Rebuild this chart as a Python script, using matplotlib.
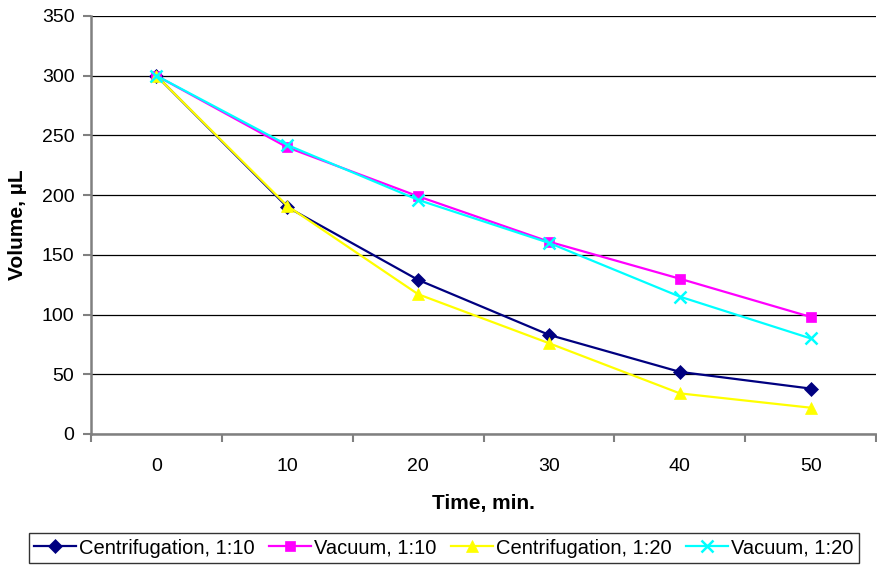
import matplotlib.pyplot as plt

plt.rcParams['font.family'] = ['Liberation Sans', 'DejaVu Sans']

times = [0, 10, 20, 30, 40, 50]
centrifugation_1_10 = [300, 190, 129, 83, 52, 38]
vacuum_1_10 = [300, 240, 199, 161, 130, 98]
centrifugation_1_20 = [300, 191, 117, 76, 34, 22]
vacuum_1_20 = [300, 242, 196, 160, 115, 80]

series = [
    ('Centrifugation, 1:10', centrifugation_1_10, '#000080', 'D', 7),
    ('Vacuum, 1:10', vacuum_1_10, '#FF00FF', 's', 7.5),
    ('Centrifugation, 1:20', centrifugation_1_20, '#FFFF00', '^', 9),
    ('Vacuum, 1:20', vacuum_1_20, '#00FFFF', 'x', 8),
]

fig = plt.figure(figsize=(8.77, 5.69), dpi=100)
ax = fig.add_axes([0.1038, 0.2373, 0.8952, 0.7346])

pos = list(range(len(times)))
for label, values, color, marker, size in series:
    ax.plot(pos, values, color=color, marker=marker, markersize=size,
            linewidth=1.6, label=label,
            markeredgewidth=1.8 if marker == 'x' else 0.5,
            markeredgecolor=color, zorder=3)

ax.set_xlim(-0.5, 5.45)
ax.set_ylim(0, 350)
ax.set_yticks(range(0, 351, 50))
ax.set_xticks(pos)
ax.set_xticklabels([str(t) for t in times])
ax.set_xticks([p - 0.5 for p in range(len(times) + 1)], minor=True)
ax.tick_params(axis='x', which='major', length=0, labelsize=14, pad=17)
ax.tick_params(axis='x', which='minor', length=6, width=1.5, color='#808080')
ax.tick_params(axis='y', length=6, width=1.5, color='#808080', labelsize=14,
               pad=6)
ax.yaxis.grid(True, color='black', linewidth=0.9)
ax.set_axisbelow(True)

for side in ['top', 'right']:
    ax.spines[side].set_visible(False)
for side in ['left', 'bottom']:
    ax.spines[side].set_color('#808080')
    ax.spines[side].set_linewidth(1.8)

ax.set_xlabel('Time, min.', fontsize=15, fontweight='bold', labelpad=14)
ax.set_ylabel('Volume, µL', fontsize=15, fontweight='bold')
ax.yaxis.set_label_coords(-0.0815, 0.5)

leg = fig.legend(loc='center', bbox_to_anchor=(0.506, 0.0369), ncol=4,
                 fontsize=14.5, frameon=True, fancybox=False, handlelength=2.1,
                 handletextpad=0.15, columnspacing=0.7, borderpad=0.25,
                 borderaxespad=0)
leg.get_frame().set_edgecolor('black')
leg.get_frame().set_linewidth(1.0)

fig.savefig('out.png', dpi=100)
